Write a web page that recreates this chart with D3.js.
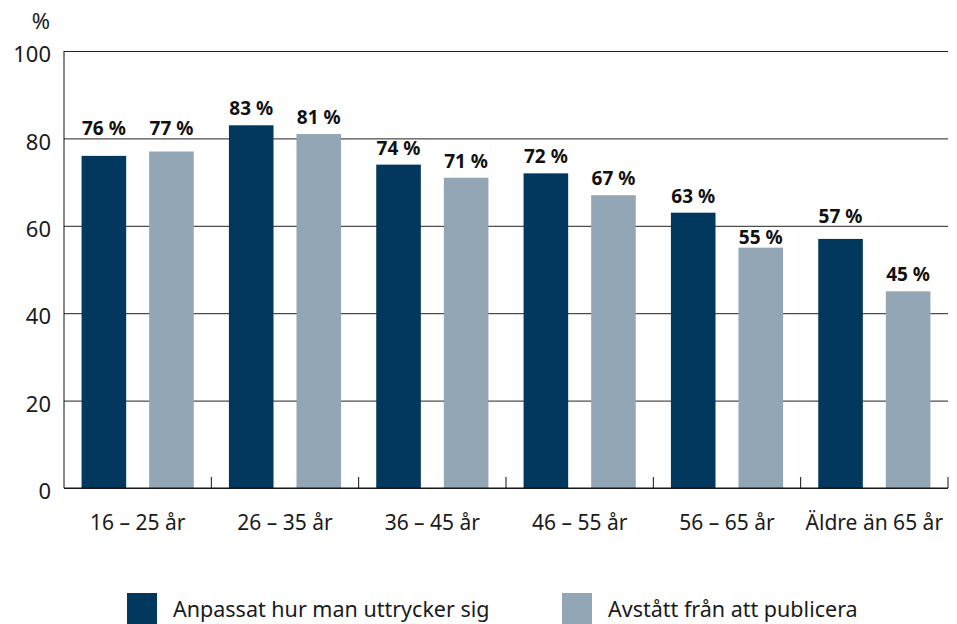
<!DOCTYPE html>
<html>
<head>
<meta charset="utf-8">
<script src="https://cdn.jsdelivr.net/npm/d3@7"></script>
<style>
  body { margin: 0; background: #fff; }
  svg { font-family: "Noto Sans", sans-serif; }
</style>
</head>
<body>
<div id="chart"></div>
<script>
// age groups and the two series (percent)
const categories = ["16 – 25 år", "26 – 35 år", "36 – 45 år", "46 – 55 år", "56 – 65 år", "Äldre än 65 år"]
const seriesNames = ["Anpassat hur man uttrycker sig", "Avstått från att publicera"]
const anpassat = [76, 83, 74, 72, 63, 57]
const avstatt = [77, 81, 71, 67, 55, 45]
const yTicks = [0, 20, 40, 60, 80, 100]
const colors = ["#03385e", "#93a6b6"]

function drawChart() {
  const dimensions = {
    width: 957,
    height: 624,
    margin: { top: 51, right: 9, bottom: 136, left: 64 },
  }
  dimensions.boundedWidth = dimensions.width - dimensions.margin.left - dimensions.margin.right
  dimensions.boundedHeight = dimensions.height - dimensions.margin.top - dimensions.margin.bottom

  const svg = d3.select("#chart")
    .append("svg")
      .attr("width", dimensions.width)
      .attr("height", dimensions.height)

  const bounds = svg.append("g")
    .attr("transform", `translate(${dimensions.margin.left},${dimensions.margin.top})`)

  const xScale = d3.scaleBand()
    .domain(categories)
    .range([0, dimensions.boundedWidth])

  const xInner = d3.scaleBand()
    .domain([0, 1])
    .range([0, xScale.bandwidth()])
    .paddingInner(0.34)
    .paddingOuter(0.26)

  const yScale = d3.scaleLinear()
    .domain([0, 100])
    .range([dimensions.boundedHeight, 0])

  // gridlines + y labels
  const yAxis = d3.axisLeft(yScale)
    .tickValues(yTicks)
    .tickSize(-dimensions.boundedWidth)
    .tickPadding(13)
  const yAxisG = bounds.append("g").call(yAxis)
  yAxisG.select(".domain").remove()
  yAxisG.selectAll(".tick line").attr("stroke", "#222").attr("stroke-width", 1)
  yAxisG.selectAll(".tick text")
    .attr("font-size", 22)
    .attr("fill", "#1a1a1a")
    .attr("dy", "0.85em")
    .attr("y", -8)
    .style("font-family", "'Noto Sans', sans-serif")

  // left axis line
  bounds.append("line")
    .attr("x1", 0).attr("x2", 0)
    .attr("y1", 0).attr("y2", dimensions.boundedHeight)
    .attr("stroke", "#111")

  // bars
  const rows = categories.map((c, i) => ({ cat: c, values: [anpassat[i], avstatt[i]] }))
  const groups = bounds.selectAll(".grp")
    .data(rows)
    .enter().append("g")
      .attr("transform", d => `translate(${xScale(d.cat)},0)`)

  groups.selectAll("rect")
    .data(d => d.values)
    .enter().append("rect")
      .attr("x", (d, i) => xInner(i))
      .attr("width", xInner.bandwidth())
      .attr("y", d => yScale(d))
      .attr("height", d => dimensions.boundedHeight - yScale(d))
      .attr("fill", (d, i) => colors[i])

  // value labels, nudged off the gridlines
  const gridYs = yTicks.map(t => yScale(t))
  const labelY = v => {
    const top = yScale(v)
    let base = top - 10
    const hit = gridYs.find(g => g > base - 16 && g < base + 2)
    if (hit !== undefined) {
      if (top - 4 - 14 > hit + 1) base = top - 4
      else base = hit - 3
    }
    return base
  }
  groups.selectAll("text.val")
    .data(d => d.values)
    .enter().append("text")
      .attr("class", "val")
      .attr("x", (d, i) => xInner(i) + xInner.bandwidth() / 2)
      .attr("y", d => labelY(d))
      .attr("text-anchor", "middle")
      .attr("font-size", 19)
      .attr("font-weight", "bold")
      .attr("fill", "#111")
      .text(d => `${d} %`)

  // x axis baseline + ticks between groups
  const xAxisG = bounds.append("g")
    .attr("transform", `translate(0,${dimensions.boundedHeight})`)
  xAxisG.append("line")
    .attr("x1", 0).attr("x2", dimensions.boundedWidth)
    .attr("stroke", "#111")
  xAxisG.selectAll(".sep")
    .data(categories)
    .enter().append("line")
      .attr("x1", d => xScale(d) + xScale.bandwidth())
      .attr("x2", d => xScale(d) + xScale.bandwidth())
      .attr("y1", 0).attr("y2", -11)
      .attr("stroke", "#111")
  xAxisG.selectAll(".cat")
    .data(categories)
    .enter().append("text")
      .attr("x", d => xScale(d) + xScale.bandwidth() / 2)
      .attr("y", 42)
      .attr("text-anchor", "middle")
      .attr("font-size", 21)
      .attr("fill", "#1a1a1a")
      .text(d => d)

  // unit label
  svg.append("text")
    .attr("x", 41).attr("y", 29)
    .attr("text-anchor", "middle")
    .attr("font-size", 22)
    .attr("fill", "#1a1a1a")
    .text("%")

  // legend
  const legendX = [127, 562]
  const legend = svg.selectAll(".leg")
    .data(seriesNames)
    .enter().append("g")
      .attr("transform", (d, i) => `translate(${legendX[i]},593)`)
  legend.append("rect")
    .attr("width", 30).attr("height", 31)
    .attr("fill", (d, i) => colors[i])
  legend.append("text")
    .attr("x", 46).attr("y", 24)
    .attr("font-size", 21.5)
    .attr("fill", "#1a1a1a")
    .text(d => d)
}
drawChart()
</script>
</body>
</html>
